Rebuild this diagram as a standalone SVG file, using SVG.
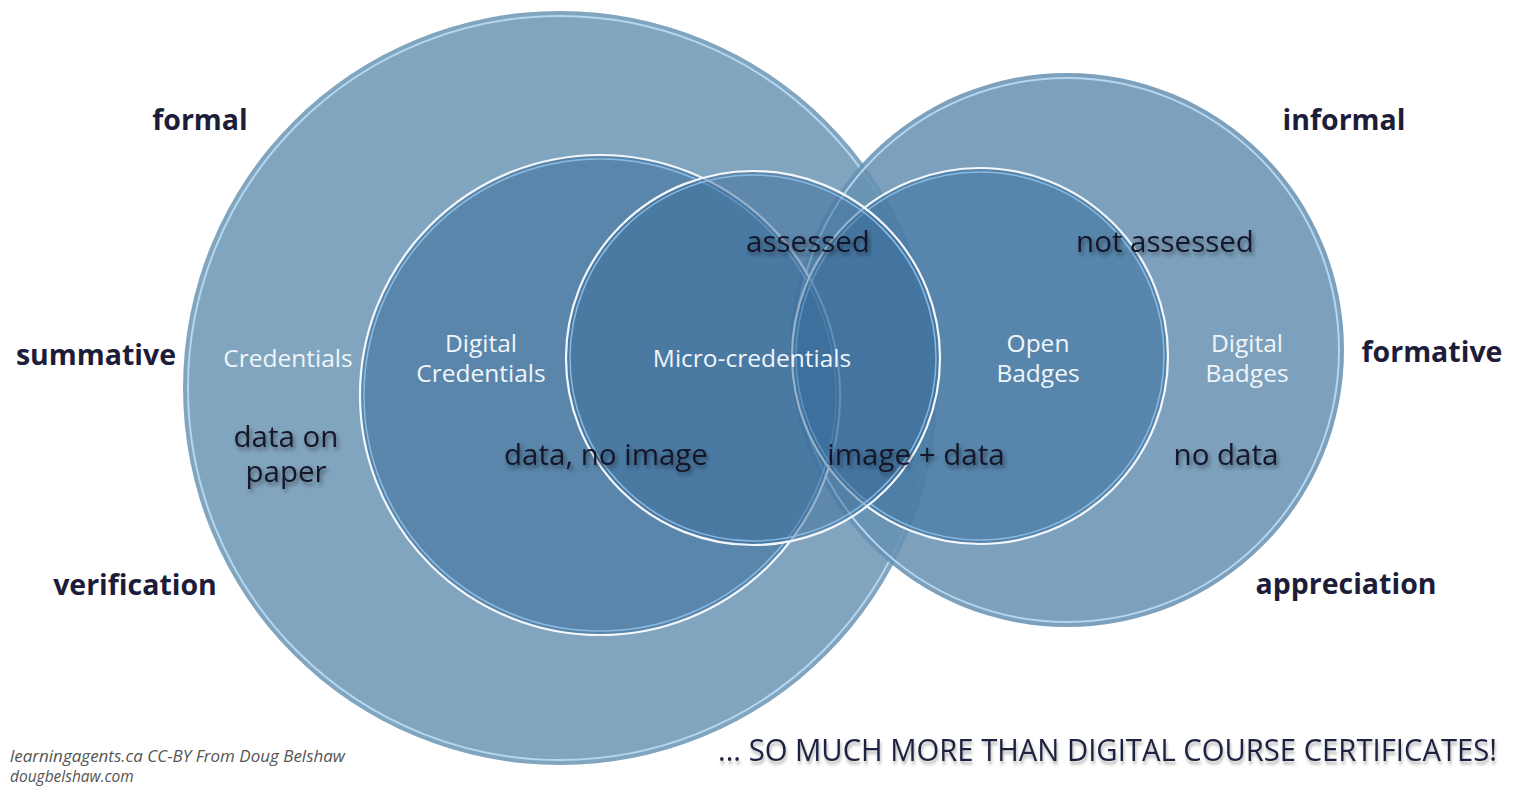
<svg xmlns="http://www.w3.org/2000/svg" width="1524" height="792" viewBox="0 0 1524 792">
<defs>
<filter id="shadow" x="-10%" y="-30%" width="120%" height="170%">
<feDropShadow dx="2" dy="3" stdDeviation="2" flood-color="#000" flood-opacity="0.45"/>
</filter>
<filter id="soft" x="-10%" y="-30%" width="120%" height="170%">
<feDropShadow dx="1" dy="3" stdDeviation="1.5" flood-color="#000" flood-opacity="0.3"/>
</filter>
</defs>
<style>
.side{font-family:"Open Sans","Liberation Sans",sans-serif;font-weight:bold;font-size:28.5px;fill:#1d1d3a;text-anchor:middle}
.name{font-family:"Open Sans","Liberation Sans",sans-serif;font-size:24.5px;fill:#f0f5fa;text-anchor:middle}
.region{font-family:"Open Sans","Liberation Sans",sans-serif;font-size:29.5px;fill:#15182a;text-anchor:middle;filter:url(#shadow)}
.edge{fill:none;stroke:#b4d6f0;stroke-width:2}
.white{fill:none;stroke:#f4f8fc;stroke-width:2.2}
.inner{fill:none;stroke:#8ec0e8;stroke-width:1.5;opacity:0.9}
.credit{font-family:"Open Sans","Liberation Sans",sans-serif;font-style:italic;font-size:15.5px;fill:#555}
</style>
<rect width="1524" height="792" fill="#ffffff"/>

<g id="credentials">
<circle cx="560" cy="388" r="377" fill="#82a5bf"/>
<circle class="edge" cx="560" cy="388" r="372"/>
<text class="name" x="288" y="367">Credentials</text>
</g>

<g id="digital-badges">
<circle cx="1067" cy="350" r="277" fill="#6690b1" fill-opacity="0.85"/>
<circle class="edge" cx="1067" cy="350" r="272"/>
<text class="name" x="1247" y="352">Digital<tspan x="1247" dy="30">Badges</tspan></text>
</g>

<g id="digital-credentials">
<circle cx="600" cy="395" r="240" fill="#326797" fill-opacity="0.5"/>
<circle class="white" cx="600" cy="395" r="240"/>
<circle class="inner" cx="600" cy="395" r="236"/>
<text class="name" x="481" y="352">Digital<tspan x="481" dy="30">Credentials</tspan></text>
</g>

<g id="open-badges">
<circle cx="980" cy="356" r="188" fill="#32699a" fill-opacity="0.5"/>
<circle class="white" cx="980" cy="356" r="188"/>
<circle class="inner" cx="980" cy="356" r="184"/>
<text class="name" x="1038" y="352">Open<tspan x="1038" dy="30">Badges</tspan></text>
</g>

<g id="micro-credentials">
<circle cx="753" cy="358" r="187" fill="#3a6c99" fill-opacity="0.5"/>
<circle class="white" cx="753" cy="358" r="187"/>
<circle class="inner" cx="753" cy="358" r="183"/>
<text class="name" x="752" y="367">Micro-credentials</text>
</g>

<g id="connectors"></g>

<g id="region-labels">
<text class="region" x="808" y="252">assessed</text>
<text class="region" x="1165" y="252">not assessed</text>
<text class="region" x="286" y="447">data on<tspan x="286" dy="35">paper</tspan></text>
<text class="region" x="606" y="465">data, no image</text>
<text class="region" x="916" y="465">image + data</text>
<text class="region" x="1226" y="465">no data</text>
</g>

<g id="side-labels">
<text class="side" x="200" y="130">formal</text>
<text class="side" x="96" y="365">summative</text>
<text class="side" x="135" y="595">verification</text>
<text class="side" x="1344" y="130">informal</text>
<text class="side" x="1432" y="362">formative</text>
<text class="side" x="1346" y="594">appreciation</text>
</g>

<g id="footer">
<text x="0" y="0" transform="translate(718,761) scale(1,1.13)" font-family="Open Sans, Liberation Sans, sans-serif" font-size="28" fill="#1f2340" textLength="779" lengthAdjust="spacingAndGlyphs" filter="url(#soft)">... SO MUCH MORE THAN DIGITAL COURSE CERTIFICATES!</text>
<text class="credit" x="10" y="762" textLength="335" lengthAdjust="spacingAndGlyphs">learningagents.ca CC-BY From Doug Belshaw</text>
<text class="credit" x="10" y="782">dougbelshaw.com</text>
</g>
</svg>
